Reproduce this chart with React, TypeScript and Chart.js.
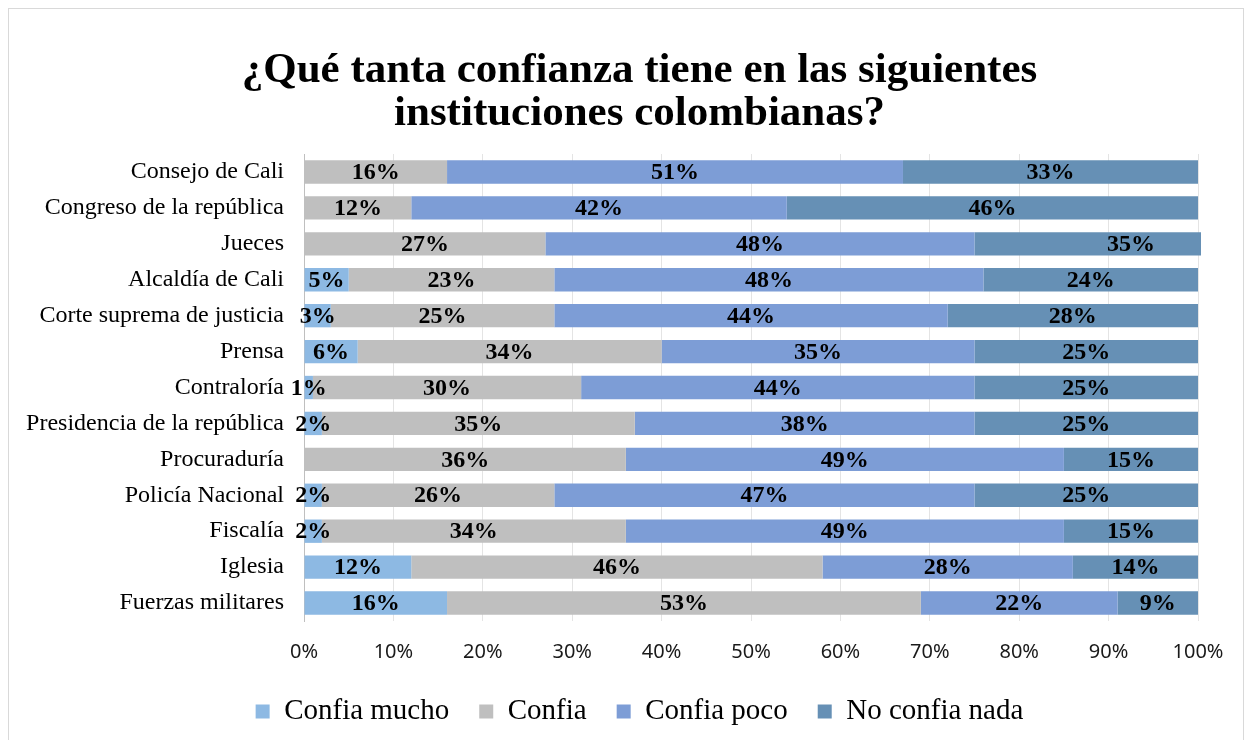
import React, { useEffect, useRef } from "react";
import { Chart, registerables } from "chart.js";

Chart.register(...registerables);

const titleLines = ["¿Qué tanta confianza tiene en las siguientes", "instituciones colombianas?"];

const categories = [
  "Consejo de Cali",
  "Congreso de la república",
  "Jueces",
  "Alcaldía de Cali",
  "Corte suprema de justicia",
  "Prensa",
  "Contraloría",
  "Presidencia de la república",
  "Procuraduría",
  "Policía Nacional",
  "Fiscalía",
  "Iglesia",
  "Fuerzas militares",
];

const seriesNames = ["Confia mucho", "Confia", "Confia poco", "No confia nada"];

const confiaMucho = [0, 0, 0, 5, 3, 6, 1, 2, 0, 2, 2, 12, 16];
const confia = [16, 12, 27, 23, 25, 34, 30, 35, 36, 26, 34, 46, 53];
const confiaPoco = [51, 42, 48, 48, 44, 35, 44, 38, 49, 47, 49, 28, 22];
const noConfiaNada = [33, 46, 35, 24, 28, 25, 25, 25, 15, 25, 15, 14, 9];

const xTicks = [0, 10, 20, 30, 40, 50, 60, 70, 80, 90, 100];

const colors = ["#8DB9E3", "#BFBFBF", "#7D9DD6", "#6690B5"];

const serif = "'Liberation Serif', 'Times New Roman', serif";

const labelPlugin = {
  id: "segmentLabels",
  afterDatasetsDraw(chart: any) {
    const ctx = chart.ctx;
    ctx.save();
    ctx.font = `bold 24px ${serif}`;
    ctx.fillStyle = "#000";
    ctx.textAlign = "center";
    ctx.textBaseline = "middle";
    chart.data.datasets.forEach((ds: any, di: number) => {
      const meta = chart.getDatasetMeta(di);
      meta.data.forEach((el: any, i: number) => {
        const v = ds.data[i];
        if (!v) return;
        const x = (el.x + el.base) / 2;
        ctx.fillText(`${v}%`, x, el.y + 1);
      });
    });
    ctx.restore();
  },
};

export default function App() {
  const ref = useRef<HTMLCanvasElement | null>(null);

  useEffect(() => {
    if (!ref.current) return;
    const seriesData = [confiaMucho, confia, confiaPoco, noConfiaNada];
    const chart = new Chart(ref.current, {
      type: "bar",
      data: {
        labels: categories,
        datasets: seriesNames.map((name, i) => ({
          label: name,
          data: seriesData[i],
          backgroundColor: colors[i],
          borderWidth: 0,
          barPercentage: 1,
          categoryPercentage: 0.65,
          clip: { left: 0, top: 6, right: 3, bottom: 6 } as any,
        })),
      },
      options: {
        indexAxis: "y",
        animation: false,
        responsive: true,
        maintainAspectRatio: false,
        layout: { padding: { left: 14, right: 0, top: 0, bottom: 13 } },
        scales: {
          x: {
            stacked: true,
            min: 0,
            max: 100,
            afterBuildTicks: (scale: any) => {
              scale.ticks = xTicks.map((v) => ({ value: v }));
            },
            afterFit: (scale: any) => {
              scale.height = 46;
            },
            ticks: {
              padding: 19,
              color: "#1a1a1a",
              font: { family: "'Noto Sans', sans-serif", size: 20 },
              callback: (v: any) => `${v}%`,
            },
            grid: { color: "#E4E4E4", drawTicks: false },
            border: { display: false },
          },
          y: {
            stacked: true,
            afterFit: (scale: any) => {
              scale.width = 281;
            },
            ticks: {
              padding: 20,
              color: "#000",
              font: { family: serif, size: 24 },
            },
            grid: { display: false, drawTicks: false },
            border: { display: true, color: "#BFBFBF", width: 1 },
          },
          yRight: {
            type: "category",
            position: "right",
            display: true,
            afterFit: (scale: any) => {
              scale.width = 58;
            },
            ticks: { display: false },
            grid: { display: false, drawTicks: false },
            border: { display: false },
          },
        },
        plugins: {
          title: {
            display: true,
            text: titleLines,
            color: "#000",
            font: { family: serif, size: 43, weight: "bold", lineHeight: 1.0 },
            padding: { top: 40, bottom: 19 },
          },
          legend: {
            display: true,
            position: "bottom",
            labels: {
              boxWidth: 14,
              boxHeight: 14,
              padding: 30,
              color: "#000",
              font: { family: serif, size: 29 },
            },
          },
          tooltip: { enabled: false },
        },
      },
      plugins: [labelPlugin],
    });
    return () => chart.destroy();
  }, []);

  return (
    <div
      style={{
        border: "1px solid #D9D9D9",
        width: 1234,
        height: 740,
        overflow: "hidden",
        background: "#fff",
      }}
    >
      <div style={{ width: 1247, height: 740, position: "relative" }}>
        <canvas ref={ref} />
      </div>
    </div>
  );
}
